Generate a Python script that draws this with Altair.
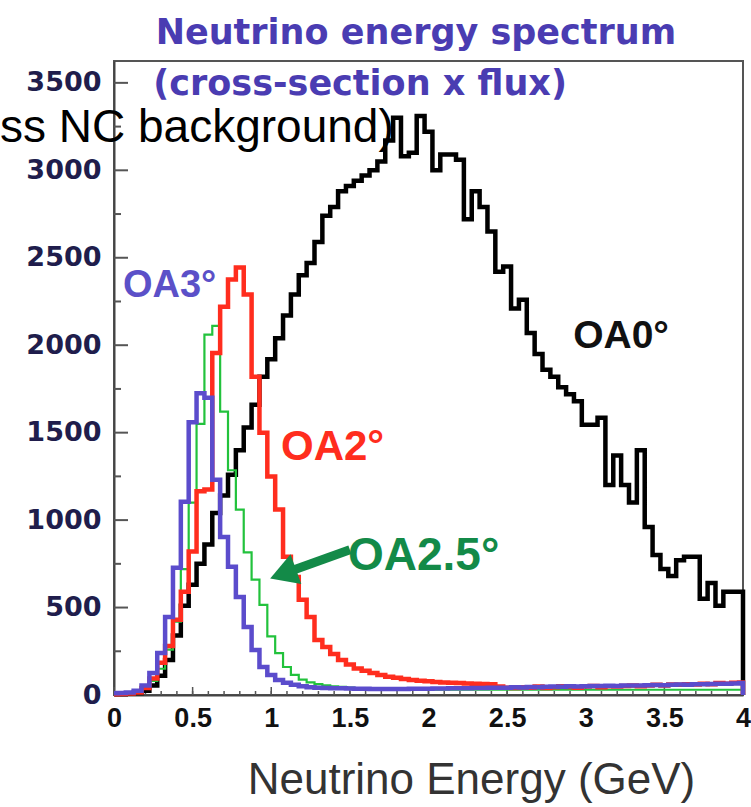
import altair as alt
import pandas as pd

# ---- histogram contents (events per 0.05 GeV bin, bin centres 0.00 ... 4.00 GeV) ----
BIN_WIDTH = 0.05
bin_centres = [round(BIN_WIDTH * k, 2) for k in range(81)]

oa0 = [5, 5, 8, 12, 25, 55, 110, 200, 340, 510,
       630, 750, 860, 1040, 1140, 1260, 1400, 1530, 1660, 1820,
       1920, 2040, 2170, 2290, 2400, 2470, 2590, 2740, 2790, 2880,
       2910, 2940, 2970, 3000, 3050, 3170, 3300, 3080, 3100, 3310,
       3220, 3000, 3090, 3090, 3060, 2720, 2880, 2790, 2650, 2420,
       2450, 2210, 2260, 2070, 1950, 1860, 1820, 1760, 1720, 1680,
       1545, 1545, 1585, 1200, 1370, 1200, 1100, 1400, 960, 800,
       720, 680, 770, 790, 790, 550, 640, 510, 590, 590,
       590]

oa2 = [5, 6, 8, 15, 40, 95, 185, 280, 430, 590,
       820, 1165, 1175, 1955, 2220, 2375, 2445, 2290, 1820, 1500,
       1250, 1060, 790, 675, 545, 446, 315, 275, 235, 200,
       175, 152, 138, 126, 115, 105, 98, 92, 86, 82,
       78, 75, 72, 70, 68, 66, 64, 63, 62, 48,
       42, 40, 45, 42, 48, 40, 44, 50, 46, 42,
       48, 52, 45, 50, 48, 52, 55, 50, 54, 58,
       55, 60, 58, 62, 60, 65, 62, 68, 65, 70,
       72]

oa25 = [5, 6, 8, 15, 35, 80, 150, 260, 420, 720,
        1100, 1550, 2060, 2110, 1620, 1285, 1060, 815, 660, 515,
        335, 240, 160, 115, 88, 72, 62, 55, 50, 46,
        43, 40, 38, 36, 35, 34, 33, 32, 32, 31,
        31, 30, 30, 30, 30, 30, 30, 30, 30, 30,
        30, 30, 30, 30, 30, 30, 30, 30, 30, 30,
        30, 30, 30, 30, 30, 30, 30, 30, 30, 30,
        30, 30, 30, 30, 30, 30, 30, 30, 30, 30,
        30]

oa3 = [10, 12, 14, 25, 55, 126, 240, 446, 727, 1105,
       1560, 1725, 1700, 1231, 904, 733, 561, 389, 258, 160,
       114, 86, 70, 58, 50, 45, 42, 40, 39, 38,
       37, 36, 36, 35, 35, 35, 35, 35, 36, 36,
       36, 37, 37, 38, 38, 39, 40, 40, 41, 42,
       42, 44, 43, 46, 45, 47, 48, 47, 50, 49,
       50, 52, 51, 53, 52, 54, 55, 54, 56, 57,
       56, 58, 60, 59, 61, 62, 63, 64, 65, 66,
       68]

# axis ticks
x_tick_values = [0, 0.5, 1, 1.5, 2, 2.5, 3, 3.5, 4]
y_tick_values = [0, 500, 1000, 1500, 2000, 2500, 3000, 3500]
x_minor_ticks = [round(0.1 * k, 1) for k in range(1, 40)]
y_minor_ticks = [250, 750, 1250, 1750, 2250, 2750, 3250]

X_MAX = 4.0
Y_MAX = 3625

W, H = 629, 634


def step_table(values, name):
    """Turn bin contents into step-after vertices clipped to [0, X_MAX]."""
    rows = []
    for i, (c, v) in enumerate(zip(bin_centres, values)):
        rows.append({"energy": max(0.0, c - BIN_WIDTH / 2), "count": v, "series": name, "idx": i})
    rows.append({"energy": X_MAX, "count": 0, "series": name, "idx": len(values)})
    return pd.DataFrame(rows)


x_scale = alt.Scale(domain=[0, X_MAX], nice=False, zero=False)
y_scale = alt.Scale(domain=[0, Y_MAX], nice=False)

x_axis = alt.Axis(
    values=x_tick_values, format="~g", grid=False, ticks=False,
    labelFont="Liberation Sans", labelFontWeight="bold", labelFontSize=27,
    labelColor="#111111", labelPadding=10, labelFlush=False,
    domainColor="#444444", domainWidth=2,
    title="Neutrino Energy (GeV)", titleFont="Liberation Sans", titleFontWeight="normal",
    titleFontSize=44, titleColor="#333333", titleX=357, titleY=98,
    titleBaseline="alphabetic", titleAnchor="middle", titleAlign="center",
)
y_axis = alt.Axis(
    values=y_tick_values, format="d", grid=False, ticks=False,
    labelFont="DejaVu Sans", labelFontWeight="bold", labelFontSize=27,
    labelColor="#201d4c", labelPadding=13, labelFlush=False,
    domainColor="#444444", domainWidth=2, title=None,
)


def xq(field):
    return alt.X(field, type="quantitative", scale=x_scale, axis=x_axis)


def yq(field):
    return alt.Y(field, type="quantitative", scale=y_scale, axis=y_axis)


def hist_layer(values, name, color, width):
    return alt.Chart(step_table(values, name)).mark_line(
        interpolate="step-after", color=color, strokeWidth=width, strokeJoin="miter"
    ).encode(x=xq("energy"), y=yq("count"), order="idx:Q")


black = hist_layer(oa0, "OA0", "#000000", 4.5)
green = hist_layer(oa25, "OA2.5", "#22c23c", 2.2)
red = hist_layer(oa2, "OA2", "#ff2d1e", 4.5)
blue = hist_layer(oa3, "OA3", "#5b4ccc", 4.5)

# inward tick marks on the frame
y_major = alt.Chart(pd.DataFrame({"v": y_tick_values})).mark_rule(color="#555555", strokeWidth=2).encode(
    y=yq("v"), x=alt.value(0), x2=alt.value(14))
y_minor = alt.Chart(pd.DataFrame({"v": y_minor_ticks})).mark_rule(color="#555555", strokeWidth=2).encode(
    y=yq("v"), x=alt.value(0), x2=alt.value(7))
x_major = alt.Chart(pd.DataFrame({"e": x_tick_values})).mark_rule(color="#555555", strokeWidth=1.5).encode(
    x=xq("e"), y=alt.value(H), y2=alt.value(H - 8))
x_minor = alt.Chart(pd.DataFrame({"e": x_minor_ticks})).mark_rule(color="#555555", strokeWidth=1.5).encode(
    x=xq("e"), y=alt.value(H), y2=alt.value(H - 4))


def label(text, x, y, color, size, font="Liberation Sans", weight="bold", align="left"):
    df = pd.DataFrame({"x": [x], "y": [y], "t": [text]})
    return alt.Chart(df).mark_text(
        font=font, fontSize=size, fontWeight=weight, color=color,
        align=align, baseline="alphabetic",
    ).encode(x=xq("x"), y=yq("y"), text="t:N")


title1 = label("Neutrino energy spectrum", 1.92, 3721, "#4a3cb2", 35, font="DejaVu Sans", align="center")
title2 = label("(cross-section x flux)", 0.25, 3429, "#4a3cb2", 35, font="DejaVu Sans")
note = label("ss NC background)", -0.725, 3160, "#000000", 46, weight="normal")
lab_oa3 = label("OA3°", 0.057, 2278, "#5b50c8", 38)
lab_oa2 = label("OA2°", 1.062, 1345, "#ff2d1e", 42)
lab_oa25 = label("OA2.5°", 1.488, 716, "#138a48", 46)
lab_oa0 = label("OA0°", 2.92, 1986, "#111111", 39)

# arrow pointing at the OA2.5 curve
arrow_shaft = alt.Chart(pd.DataFrame({"x": [1.50, 1.075], "y": [830, 693], "o": [0, 1]})).mark_line(
    color="#138a48", strokeWidth=9).encode(x=xq("x"), y=yq("y"), order="o:Q")
arrow_head = alt.Chart(pd.DataFrame({"x": [1.075], "y": [693]})).mark_point(
    shape="triangle-left", filled=True, color="#138a48", opacity=1, size=1000, angle=340
).encode(x=xq("x"), y=yq("y"))

chart = alt.layer(
    y_major, y_minor, x_major, x_minor,
    black, green, red, blue,
    arrow_shaft, arrow_head,
    title1, title2, note, lab_oa3, lab_oa2, lab_oa25, lab_oa0,
).properties(
    width=W, height=H,
    autosize=alt.AutoSizeParams(type="none"),
    padding={"left": 114, "top": 61, "right": 8, "bottom": 112},
    background="white",
).configure_view(stroke="#555555", strokeWidth=2)

chart.save("out.html", embed_options={"renderer": "svg", "actions": False})
